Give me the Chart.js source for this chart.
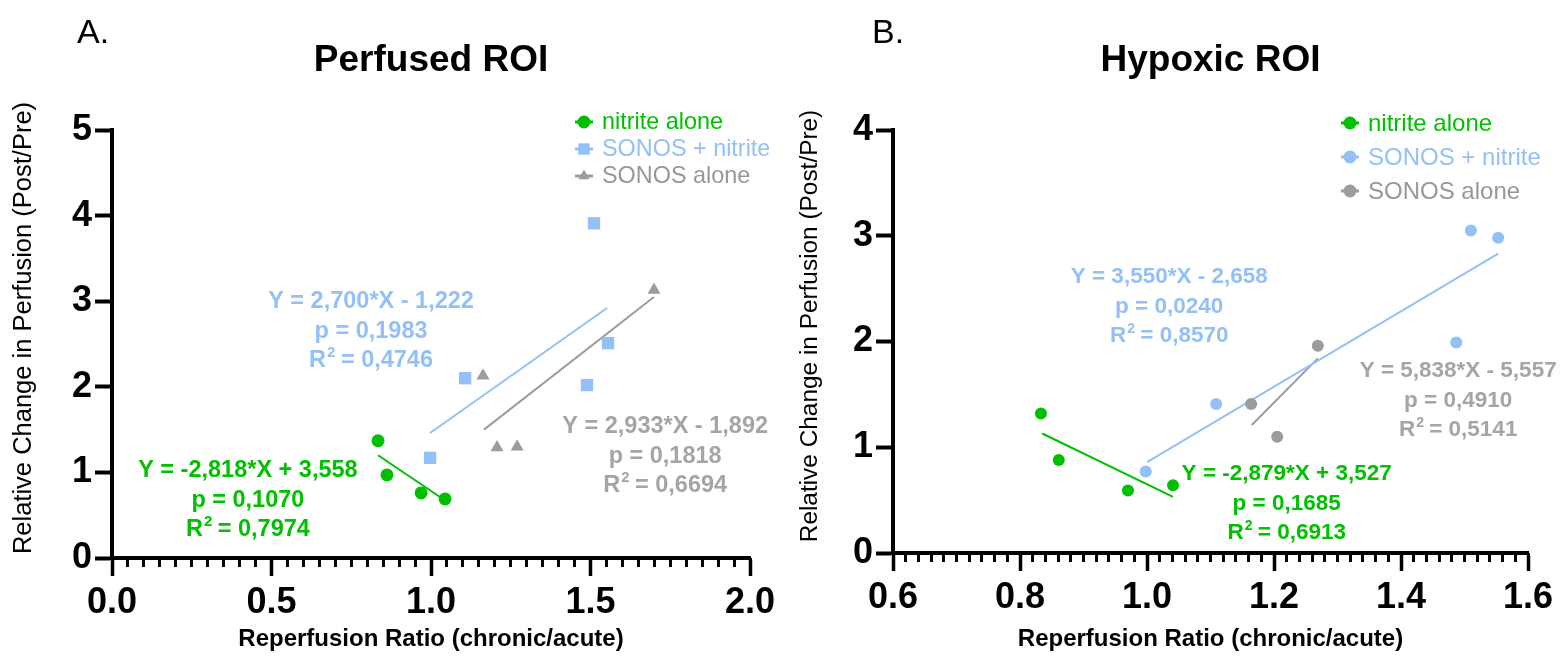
<!DOCTYPE html>
<html>
<head>
<meta charset="utf-8">
<script src="https://cdn.jsdelivr.net/npm/chart.js@4.4.0/dist/chart.umd.min.js"></script>
<style>
  html, body { margin: 0; padding: 0; background: #fff; }
  #wrap { position: relative; width: 1562px; height: 658px; }
  .panel { position: absolute; top: 0; width: 781px; height: 658px; }
  #panelA { left: 0; }
  #panelB { left: 781px; }
</style>
</head>
<body>
<div id="wrap">
  <div class="panel" id="panelA"><canvas id="chartA" width="781" height="658"></canvas></div>
  <div class="panel" id="panelB"><canvas id="chartB" width="781" height="658"></canvas></div>
</div>
<script>
const FONT = '"Liberation Sans", Arial, Helvetica, sans-serif'
const GREEN = '#00c000'
const BLUE = '#93c0f7'
const GREY = '#9c9ca0'
const GREY_TEXT = '#a5a5a5'

const seriesNames = ['nitrite alone', 'SONOS + nitrite', 'SONOS alone']
const xAxisTitle = 'Reperfusion Ratio (chronic/acute)'
const yAxisTitle = 'Relative Change in Perfusion (Post/Pre)'

// A. Perfused ROI
const nitriteAloneA = [{x: 0.834, y: 1.37}, {x: 0.862, y: 0.97}, {x: 0.969, y: 0.76}, {x: 1.044, y: 0.69}]
const sonosNitriteA = [{x: 0.997, y: 1.17}, {x: 1.107, y: 2.10}, {x: 1.489, y: 2.02}, {x: 1.511, y: 3.91}, {x: 1.555, y: 2.51}]
const sonosAloneA = [{x: 1.163, y: 2.13}, {x: 1.207, y: 1.29}, {x: 1.270, y: 1.30}, {x: 1.699, y: 3.13}]
const fitNitriteA = [{x: 0.834, y: 1.20}, {x: 1.041, y: 0.68}]
const fitSonosNitriteA = [{x: 0.997, y: 1.46}, {x: 1.552, y: 2.92}]
const fitSonosAloneA = [{x: 1.166, y: 1.50}, {x: 1.699, y: 3.05}]
const equationsA = ['Y = -2,818*X + 3,558', 'Y = 2,700*X - 1,222', 'Y = 2,933*X - 1,892']
const pValuesA = ['0,1070', '0,1983', '0,1818']
const r2ValuesA = ['0,7974', '0,4746', '0,6694']
const xTickLabelsA = ['0.0', '0.5', '1.0', '1.5', '2.0']
const yTickLabelsA = ['0', '1', '2', '3', '4', '5']

// B. Hypoxic ROI
const nitriteAloneB = [{x: 0.833, y: 1.32}, {x: 0.861, y: 0.88}, {x: 0.970, y: 0.59}, {x: 1.041, y: 0.64}]
const sonosNitriteB = [{x: 0.998, y: 0.77}, {x: 1.109, y: 1.41}, {x: 1.487, y: 1.99}, {x: 1.510, y: 3.05}, {x: 1.553, y: 2.98}]
const sonosAloneB = [{x: 1.164, y: 1.41}, {x: 1.205, y: 1.10}, {x: 1.269, y: 1.96}]
const fitNitriteB = [{x: 0.835, y: 1.13}, {x: 1.041, y: 0.53}]
const fitSonosNitriteB = [{x: 1.0, y: 0.86}, {x: 1.553, y: 2.83}]
const fitSonosAloneB = [{x: 1.165, y: 1.21}, {x: 1.269, y: 1.84}]
const equationsB = ['Y = -2,879*X + 3,527', 'Y = 3,550*X - 2,658', 'Y = 5,838*X - 5,557']
const pValuesB = ['0,1685', '0,0240', '0,4910']
const r2ValuesB = ['0,6913', '0,8570', '0,5141']
const xTickLabelsB = ['0.6', '0.8', '1.0', '1.2', '1.4', '1.6']
const yTickLabelsB = ['0', '1', '2', '3', '4']

const colors = [GREEN, BLUE, GREY]
const textColors = [GREEN, BLUE, GREY_TEXT]

function drawRSquared(ctx, value, cx, y, size) {
  const big = `bold ${size}px ${FONT}`
  const small = `bold ${Math.round(size * 0.62)}px ${FONT}`
  const rest = ' = ' + value
  ctx.font = big
  const wR = ctx.measureText('R').width
  const wRest = ctx.measureText(rest).width
  ctx.font = small
  const wSup = ctx.measureText('2').width
  let x = cx - (wR + wSup + wRest) / 2
  ctx.textAlign = 'left'
  ctx.font = big
  ctx.fillText('R', x, y)
  ctx.font = small
  ctx.fillText('2', x + wR + 1, y - size * 0.42)
  ctx.font = big
  ctx.fillText(rest, x + wR + wSup, y)
}

// text, legend and panel letter drawn on top of the chart
const panelText = {
  id: 'panelText',
  afterDraw(chart, args, opts) {
    const ctx = chart.ctx
    const xs = chart.scales.x, ys = chart.scales.y
    ctx.save()

    ctx.fillStyle = '#000'
    ctx.textAlign = 'left'
    ctx.textBaseline = 'alphabetic'
    ctx.font = `34px ${FONT}`
    ctx.fillText(opts.letter, opts.letterX, 43)

    ctx.save()
    ctx.translate(opts.yTitleX, opts.yTitleY)
    ctx.rotate(-Math.PI / 2)
    ctx.textAlign = 'center'
    ctx.textBaseline = 'middle'
    ctx.font = `${opts.yTitleSize}px ${FONT}`
    ctx.fillText(yAxisTitle, 0, 0)
    ctx.restore()

    // legend
    chart.data.datasets.slice(0, 3).forEach((ds, i) => {
      const y = opts.legendY + i * opts.legendStep
      ctx.strokeStyle = ds.backgroundColor
      ctx.lineWidth = 3
      ctx.beginPath()
      ctx.moveTo(opts.legendX - 9, y)
      ctx.lineTo(opts.legendX + 9, y)
      ctx.stroke()
      ctx.fillStyle = ds.backgroundColor
      Chart.helpers.drawPoint(ctx, {pointStyle: ds.pointStyle, radius: ds.pointStyle === 'rect' ? 8 : 6.5, rotation: 0, borderWidth: 0}, opts.legendX, y)
      ctx.fillStyle = textColors[i] === GREY_TEXT ? '#979797' : textColors[i]
      ctx.font = `${opts.legendSize}px ${FONT}`
      ctx.textAlign = 'left'
      ctx.textBaseline = 'middle'
      ctx.fillText(ds.label, opts.legendX + 18, y + 1)
    })

    // regression annotations
    ctx.textBaseline = 'alphabetic'
    opts.notes.forEach((at, i) => {
      const cx = xs.getPixelForValue(at[0])
      const y = ys.getPixelForValue(at[1])
      ctx.fillStyle = textColors[i]
      ctx.font = `bold ${opts.noteSize}px ${FONT}`
      ctx.textAlign = 'center'
      ctx.fillText(opts.equations[i], cx, y)
      ctx.fillText('p = ' + opts.pValues[i], cx, y + opts.noteStep)
      drawRSquared(ctx, opts.r2Values[i], cx, y + opts.noteStep * 2, opts.noteSize)
    })
    ctx.restore()
  }
}

function buildChart(id, cfg) {
  const pointSets = cfg.points.map((pts, i) => ({
    label: seriesNames[i], data: pts, pointStyle: cfg.styles[i],
    backgroundColor: colors[i], borderColor: colors[i], borderWidth: 0,
    pointRadius: cfg.radii[i], showLine: false
  }))
  const fitSets = cfg.fits.map((pts, i) => ({
    label: 'fit ' + seriesNames[i], data: pts, borderColor: colors[i],
    backgroundColor: colors[i], borderWidth: 2, pointRadius: 0, showLine: true, fill: false
  }))
  const tickFont = {family: FONT, size: 36, weight: 'bold'}
  return new Chart(document.getElementById(id), {
    type: 'scatter',
    data: {datasets: pointSets.concat(fitSets)},
    plugins: [panelText],
    options: {
      responsive: false,
      animation: false,
      layout: {padding: {left: 0, right: cfg.padRight, top: 0, bottom: 0}},
      scales: {
        x: {
          type: 'linear', position: 'bottom', min: cfg.xMin, max: cfg.xMax, weight: 1,
          ticks: {stepSize: cfg.xStep, color: '#000', font: tickFont, padding: 5, maxRotation: 0, autoSkip: false,
            callback: (v, i) => cfg.xLabels[i]},
          grid: {drawOnChartArea: false, tickLength: 18, tickWidth: 3.5, tickColor: '#000'},
          border: {display: true, width: 4, color: '#000'},
          title: {display: true, text: xAxisTitle, color: '#000', font: {family: FONT, size: 24, weight: 'bold'}, padding: {top: 0, bottom: 4}},
          afterFit: s => { s.height = cfg.xHeight }
        },
        xMinor: {
          type: 'linear', position: 'bottom', min: cfg.xMin, max: cfg.xMax, weight: 0,
          ticks: {stepSize: cfg.xMinorStep, display: false},
          grid: {drawOnChartArea: false, tickLength: 9, tickWidth: 3, tickColor: '#000'},
          border: {display: false},
          afterFit: s => { s.height = 0 }
        },
        y: {
          type: 'linear', min: 0, max: cfg.yMax,
          ticks: {stepSize: 1, color: '#000', font: tickFont, padding: 3, callback: (v, i) => cfg.yLabels[i]},
          grid: {drawOnChartArea: false, tickLength: 17, tickWidth: 4, tickColor: '#000'},
          border: {display: true, width: 4, color: '#000'},
          afterFit: s => { s.width = 112 }
        }
      },
      plugins: {
        legend: {display: false},
        tooltip: {enabled: false},
        title: {display: true, text: cfg.title, color: '#000', fullSize: false,
          font: {family: FONT, size: 37, weight: 'bold'}, padding: {top: 39, bottom: 46.6}},
        panelText: cfg.text
      }
    }
  })
}

buildChart('chartA', {
  title: 'Perfused ROI',
  points: [nitriteAloneA, sonosNitriteA, sonosAloneA],
  fits: [fitNitriteA, fitSonosNitriteA, fitSonosAloneA],
  styles: ['circle', 'rect', 'triangle'],
  radii: [6.5, 8.7, 7.5],
  xMin: 0, xMax: 2, xStep: 0.5, xMinorStep: 0.05, yMax: 5,
  xLabels: xTickLabelsA, yLabels: yTickLabelsA,
  padRight: 31, xHeight: 100,
  text: {
    letter: 'A.', letterX: 77, yTitleX: 24, yTitleY: 328, yTitleSize: 25.5,
    legendX: 584, legendY: 122, legendStep: 27, legendSize: 23.4,
    equations: equationsA, pValues: pValuesA, r2Values: r2ValuesA,
    notes: [[0.426, 0.946], [0.812, 2.92], [1.734, 1.46]], noteStep: 29.5, noteSize: 23.5
  }
})

buildChart('chartB', {
  title: 'Hypoxic ROI',
  points: [nitriteAloneB, sonosNitriteB, sonosAloneB],
  fits: [fitNitriteB, fitSonosNitriteB, fitSonosAloneB],
  styles: ['circle', 'circle', 'circle'],
  radii: [6, 6, 6],
  xMin: 0.6, xMax: 1.6, xStep: 0.2, xMinorStep: 0.02, yMax: 4,
  xLabels: xTickLabelsB, yLabels: yTickLabelsB,
  padRight: 34, xHeight: 105,
  text: {
    letter: 'B.', letterX: 91, yTitleX: 29.5, yTitleY: 326, yTitleSize: 24.4,
    legendX: 569, legendY: 123, legendStep: 34, legendSize: 24,
    equations: equationsB, pValues: pValuesB, r2Values: r2ValuesB,
    notes: [[1.220, 0.69], [1.035, 2.55], [1.490, 1.66]], noteStep: 29.5, noteSize: 22.5
  }
})
</script>
</body>
</html>
